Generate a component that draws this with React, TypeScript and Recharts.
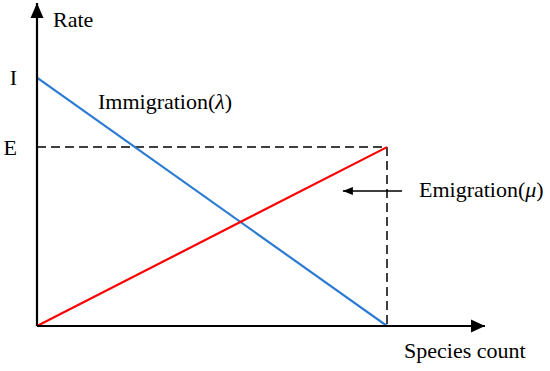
import React from "react";
import { LineChart, Line, XAxis, YAxis, ReferenceLine, ReferenceDot } from "recharts";

// data
const speciesCount = [0, 1];
const immigrationRate = [1, 0];
const emigrationRate = [0, 0.72];
const yTickValues = [1, 0.72];
const yTickLabels = ["I", "E"];
const xDomain: [number, number] = [0, 1.28];
const yDomain: [number, number] = [0, 1.3];
const arrowFrom = { x: 1.043, y: 0.543 };
const arrowTo = { x: 0.874, y: 0.543 };

const immigrationData = speciesCount.map((x, i) => ({ x, y: immigrationRate[i] }));
const emigrationData = speciesCount.map((x, i) => ({ x, y: emigrationRate[i] }));

const FONT = "'Liberation Serif', 'Times New Roman', serif";
const FS = 22;

const UpArrow = (p: any) => (
  <polygon points={`${p.cx},${p.cy} ${p.cx - 6.5},${p.cy + 15} ${p.cx + 6.5},${p.cy + 15}`} fill="#000" />
);
const RightArrow = (p: any) => (
  <polygon points={`${p.cx},${p.cy} ${p.cx - 14},${p.cy - 6.5} ${p.cx - 14},${p.cy + 6.5}`} fill="#000" />
);
const LeftArrow = (p: any) => (
  <polygon points={`${p.cx},${p.cy} ${p.cx + 10},${p.cy - 4} ${p.cx + 10},${p.cy + 4}`} fill="#000" />
);

export default function App() {
  return (
    <div style={{ position: "absolute", left: 0, top: 0, width: 550, height: 371, background: "#fff" }}>
      <LineChart width={550} height={371} margin={{ top: 3, right: 65, bottom: 0, left: 0 }}>
        <XAxis
          type="number"
          dataKey="x"
          domain={xDomain}
          allowDataOverflow
          tick={false}
          tickLine={false}
          height={45}
          axisLine={{ stroke: "#000", strokeWidth: 2.2 }}
        />
        <YAxis
          type="number"
          dataKey="y"
          domain={yDomain}
          allowDataOverflow
          ticks={yTickValues}
          tickFormatter={(v: number) => yTickLabels[yTickValues.indexOf(v)] ?? ""}
          tickLine={false}
          tickMargin={14}
          width={37}
          tick={{ fill: "#000", fontFamily: FONT, fontSize: FS }}
          axisLine={{ stroke: "#000", strokeWidth: 2.2 }}
        />
        <ReferenceLine
          segment={[{ x: 0, y: emigrationRate[1] }, { x: speciesCount[1], y: emigrationRate[1] }]}
          stroke="#000"
          strokeWidth={1.5}
          strokeDasharray="9 5"
        />
        <ReferenceLine
          segment={[{ x: speciesCount[1], y: emigrationRate[1] }, { x: speciesCount[1], y: 0 }]}
          stroke="#000"
          strokeWidth={1.5}
          strokeDasharray="9 5"
        />
        <Line
          data={immigrationData}
          dataKey="y"
          stroke="#2a7bd1"
          strokeWidth={2.2}
          dot={false}
          isAnimationActive={false}
        />
        <Line
          data={emigrationData}
          dataKey="y"
          stroke="#ff0000"
          strokeWidth={2.2}
          dot={false}
          isAnimationActive={false}
        />
        <ReferenceLine segment={[arrowFrom, arrowTo]} stroke="#000" strokeWidth={1.5} />
        <ReferenceDot x={arrowTo.x} y={arrowTo.y} shape={LeftArrow} ifOverflow="visible" />
        <ReferenceDot x={0} y={yDomain[1]} shape={UpArrow} ifOverflow="visible" />
        <ReferenceDot x={xDomain[1]} y={0} shape={RightArrow} ifOverflow="visible" />
        <text x={53} y={27} fontFamily={FONT} fontSize={FS} fill="#000">Rate</text>
        <text x={98} y={109} fontFamily={FONT} fontSize={FS} fill="#000">
          Immigration(<tspan fontStyle="italic">λ</tspan>)
        </text>
        <text x={419} y={197} fontFamily={FONT} fontSize={FS} fill="#000">
          Emigration(<tspan fontStyle="italic">μ</tspan>)
        </text>
        <text x={404} y={358} fontFamily={FONT} fontSize={FS} fill="#000">Species count</text>
      </LineChart>
    </div>
  );
}
